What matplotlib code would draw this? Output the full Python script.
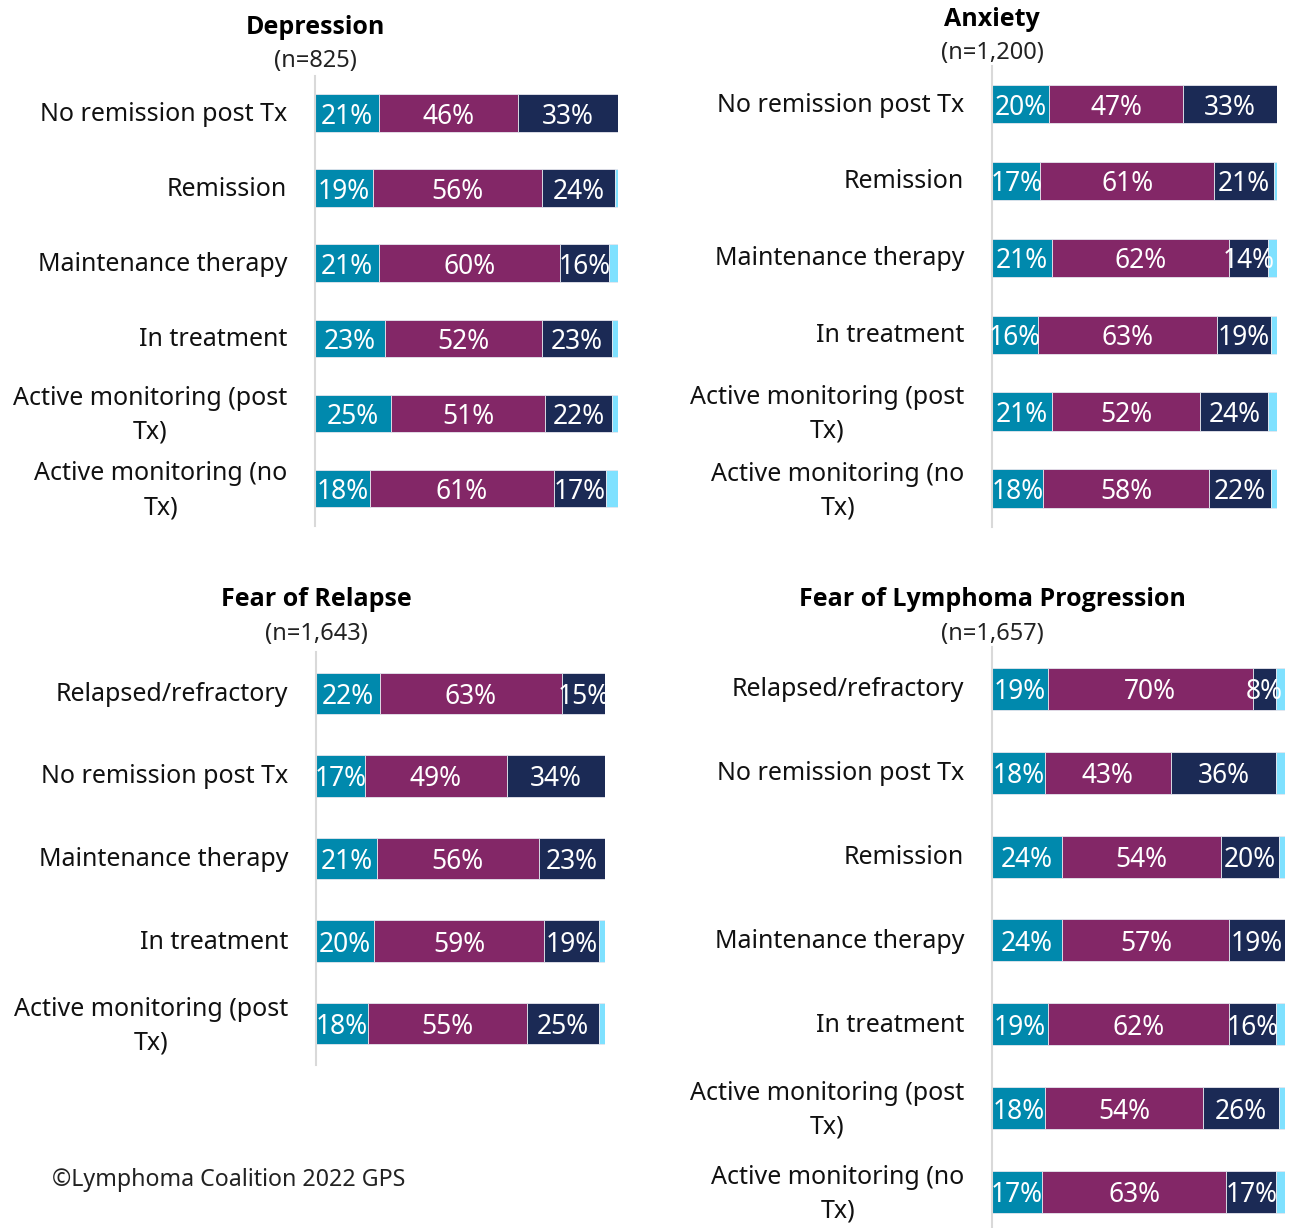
import matplotlib
matplotlib.use("Agg")
import matplotlib.pyplot as plt
from matplotlib.transforms import ScaledTranslation

plt.rcParams['font.family'] = ['Noto Sans', 'DejaVu Sans']

W, H = 1293, 1228

C_LOW = "#0089AD"
C_MID = "#832767"
C_HIGH = "#1B2A55"
C_REST = "#7FE1FF"

# Depression
dep_cats = ["No remission post Tx", "Remission", "Maintenance therapy", "In treatment",
            "Active monitoring (post\nTx)", "Active monitoring (no\nTx)"]
dep_low = [21, 19, 21, 23, 25, 18]
dep_mid = [46, 56, 60, 52, 51, 61]
dep_high = [33, 24, 16, 23, 22, 17]
dep_rest = [0, 1, 3, 2, 2, 4]

# Anxiety
anx_cats = ["No remission post Tx", "Remission", "Maintenance therapy", "In treatment",
            "Active monitoring (post\nTx)", "Active monitoring (no\nTx)"]
anx_low = [20, 17, 21, 16, 21, 18]
anx_mid = [47, 61, 62, 63, 52, 58]
anx_high = [33, 21, 14, 19, 24, 22]
anx_rest = [0, 1, 3, 2, 3, 2]

# Fear of relapse
rel_cats = ["Relapsed/refractory", "No remission post Tx", "Maintenance therapy",
            "In treatment", "Active monitoring (post\nTx)"]
rel_low = [22, 17, 21, 20, 18]
rel_mid = [63, 49, 56, 59, 55]
rel_high = [15, 34, 23, 19, 25]
rel_rest = [0, 0, 0, 2, 2]

# Fear of lymphoma progression
prog_cats = ["Relapsed/refractory", "No remission post Tx", "Remission",
             "Maintenance therapy", "In treatment", "Active monitoring (post\nTx)",
             "Active monitoring (no\nTx)"]
prog_low = [19, 18, 24, 24, 19, 18, 17]
prog_mid = [70, 43, 54, 57, 62, 54, 63]
prog_high = [8, 36, 20, 19, 16, 26, 17]
prog_rest = [3, 3, 2, 0, 3, 2, 3]

panels = [
    # title, n, cats, series, (left px, top px, bottom px, width px), ylim bottom, title y, n y
    ("Depression", "(n=825)", dep_cats, (dep_low, dep_mid, dep_high, dep_rest),
     (315, 75.5, 526, 303), 5.5, 27, 61),
    ("Anxiety", "(n=1,200)", anx_cats, (anx_low, anx_mid, anx_high, anx_rest),
     (992, 65.6, 527, 285), 5.5, 19, 53),
    ("Fear of Relapse", "(n=1,643)", rel_cats, (rel_low, rel_mid, rel_high, rel_rest),
     (316, 652, 1065, 289), 4.5, 600, 634),
    ("Fear of Lymphoma Progression", "(n=1,657)", prog_cats,
     (prog_low, prog_mid, prog_high, prog_rest),
     (992, 647, 1228, 293), 6.43, 600, 634),
]

fig = plt.figure(figsize=(W / 100, H / 100), dpi=100)

for title, n, cats, series, box, ybot, ty, ny in panels:
    left, top, bottom, width = box
    ax = fig.add_axes([left / W, 1 - bottom / H, width / W, (bottom - top) / H])
    ys = list(range(len(cats)))
    starts = [0] * len(cats)
    for k, (vals, col) in enumerate(zip(series, [C_LOW, C_MID, C_HIGH, C_REST])):
        ax.barh(ys, vals, left=starts, height=0.5, color=col,
                edgecolor="#e6e6ee", linewidth=0.6)
        if k < 3:
            for y, s, v in zip(ys, starts, vals):
                ax.text(s + v / 2, y, f"{v}%", ha="center", va="center_baseline",
                        color="white", fontsize=19)
        starts = [s + v for s, v in zip(starts, vals)]
    ax.set_xlim(0, 100)
    ax.set_ylim(ybot, -0.5)
    ax.set_yticks(ys)
    labels = ax.set_yticklabels(cats, fontsize=18, multialignment="center",
                                color="#111111", linespacing=1.45)
    ax.tick_params(axis="y", length=0, pad=20)
    # nudge labels up a little so the text block sits centred on its bar
    for lab, cat in zip(labels, cats):
        up = 5 if "\n" in cat else 2
        lab.set_transform(lab.get_transform() +
                          ScaledTranslation(0, up / 100, fig.dpi_scale_trans))
    ax.set_xticks([])
    for side in ["top", "right", "bottom"]:
        ax.spines[side].set_visible(False)
    ax.spines["left"].set_color("#d9d9d9")
    ax.spines["left"].set_linewidth(1.5)
    fig.text(left / W, 1 - ty / H, title, ha="center", va="center",
             fontsize=18, fontweight="bold", family=["Open Sans", "DejaVu Sans"],
             color="black")
    fig.text(left / W, 1 - ny / H, n, ha="center", va="center",
             fontsize=17, color="#222222")

fig.text(52 / W, 1 - 1180 / H, "©Lymphoma Coalition 2022 GPS", ha="left", va="center",
         fontsize=16.7, color="#222222")

fig.savefig("out.png", dpi=100)
